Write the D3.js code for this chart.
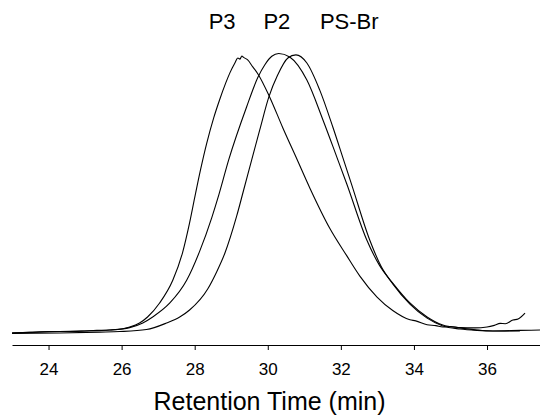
<!DOCTYPE html>
<html>
<head>
<meta charset="utf-8">
<script src="https://cdn.jsdelivr.net/npm/d3@7"></script>
<style>
  html, body { margin: 0; padding: 0; background: #fff; }
  svg { display: block; }
  text { font-family: "Liberation Sans", Arial, sans-serif; fill: #000; }
</style>
</head>
<body>
<svg id="chart" width="540" height="420"></svg>
<script>
// ---- data (retention time in min, detector response, arbitrary units) ----
const seriesNames = ["P3", "P2", "PS-Br"];

const p3Time = [23.0, 23.48, 24.0, 24.49, 24.99, 25.32, 25.67, 26.0, 26.22, 26.49, 26.71, 27.04, 27.4, 27.67, 27.86, 28.0, 28.16, 28.33, 28.52, 28.68, 28.85, 28.96, 29.1, 29.18, 29.24, 29.29, 29.34, 29.45, 29.59, 29.73, 30.05, 30.41, 30.79, 31.15, 31.7, 32.16, 32.52, 32.99, 33.42, 33.89, 34.05, 34.36, 34.6, 34.79, 35.0, 35.26, 35.67, 36.0, 36.2, 36.36, 36.5, 36.71, 36.85, 37.04];
const p3Value = [0.2, 0.4, 0.7, 0.7, 0.9, 1.1, 1.25, 1.6, 2.3, 3.75, 5.9, 10.9, 19.0, 29.0, 39.5, 48.5, 58.5, 68.0, 77.0, 83.4, 89.5, 93.0, 96.6, 98.4, 98.0, 99.1, 98.6, 97.7, 95.2, 92.7, 84.5, 73.5, 62.5, 52.0, 37.5, 27.8, 20.5, 13.0, 8.2, 4.9, 4.5, 3.1, 2.8, 2.3, 2.5, 2.1, 2.0, 2.3, 2.9, 3.6, 3.5, 4.8, 5.2, 7.3];

const p2Time = [23.0, 23.75, 24.3, 24.99, 25.67, 26.22, 26.58, 26.85, 27.32, 27.78, 28.14, 28.47, 28.66, 28.93, 29.42, 29.73, 29.92, 30.11, 30.3, 30.6, 31.07, 31.51, 31.89, 32.16, 32.71, 33.05, 33.42, 33.89, 34.36, 34.79, 35.26, 35.73, 36.16, 36.9];
const p2Value = [0.2, 0.5, 0.7, 0.9, 1.25, 2.1, 3.75, 5.9, 10.9, 19.0, 29.5, 41.5, 49.5, 62.0, 80.9, 91.5, 96.0, 99.0, 100, 98.75, 90.5, 76.25, 63.0, 53.5, 33.4, 24.5, 18.0, 10.9, 5.9, 3.0, 2.0, 1.25, 0.9, 0.9];

const psTime = [23.0, 24.3, 25.4, 25.95, 26.68, 27.23, 27.59, 27.86, 28.36, 28.6, 28.82, 29.15, 29.34, 29.56, 29.78, 30.03, 30.27, 30.55, 30.77, 31.07, 31.42, 31.78, 32.05, 32.3, 32.79, 33.1, 33.42, 33.89, 34.36, 34.79, 35.26, 35.73, 36.16, 36.9, 37.45];
const psValue = [0.0, 0.2, 0.5, 0.7, 1.4, 3.75, 5.9, 8.4, 16.0, 22.0, 28.5, 42.0, 51.25, 62.0, 72.7, 84.5, 92.3, 98.4, 99.5, 96.6, 87.0, 73.75, 63.0, 53.0, 33.4, 24.0, 17.7, 10.5, 5.5, 2.7, 1.6, 1.1, 0.9, 1.1, 1.25];

const labelTimes = [28.75, 30.25, 32.23];
const xTicks = [24, 26, 28, 30, 32, 34, 36];
const xTitle = "Retention Time (min)";

// ---- chart ----
const svg = d3.select("#chart");
const x = d3.scaleLinear().domain([23, 37.45]).range([12, 540]);
const y = d3.scaleLinear().domain([0, 100]).range([333.5, 53.5]);

const series = [
  { name: seriesNames[0], t: p3Time, v: p3Value },
  { name: seriesNames[1], t: p2Time, v: p2Value },
  { name: seriesNames[2], t: psTime, v: psValue }
];

const line = d3.line()
  .x(d => x(d[0]))
  .y(d => y(d[1]))
  .curve(d3.curveMonotoneX);

svg.append("g")
  .selectAll("path")
  .data(series)
  .join("path")
  .attr("d", s => line(s.t.map((t, i) => [t, s.v[i]])))
  .attr("fill", "none")
  .attr("stroke", "#000")
  .attr("stroke-width", 1.1);

// x axis
const axisY = 345;
const xAxis = d3.axisBottom(x).tickValues(xTicks).tickSize(5).tickPadding(13).tickSizeOuter(0);
const gx = svg.append("g").attr("transform", `translate(0,${axisY})`).call(xAxis);
gx.select(".domain").attr("stroke", "#000").attr("stroke-width", 1.2);
gx.selectAll(".tick line").attr("stroke", "#000").attr("stroke-width", 1);
gx.selectAll(".tick text")
  .style("font-family", "'Liberation Sans', Arial, sans-serif")
  .style("font-size", "17px")
  .attr("fill", "#000");

svg.append("text")
  .attr("x", 269.5)
  .attr("y", 410)
  .attr("text-anchor", "middle")
  .style("font-size", "25px")
  .text(xTitle);

// peak labels
svg.append("g")
  .selectAll("text")
  .data(series)
  .join("text")
  .attr("x", (s, i) => x(labelTimes[i]))
  .attr("y", 29)
  .attr("text-anchor", "middle")
  .style("font-size", "22px")
  .text(s => s.name);
</script>
</body>
</html>
